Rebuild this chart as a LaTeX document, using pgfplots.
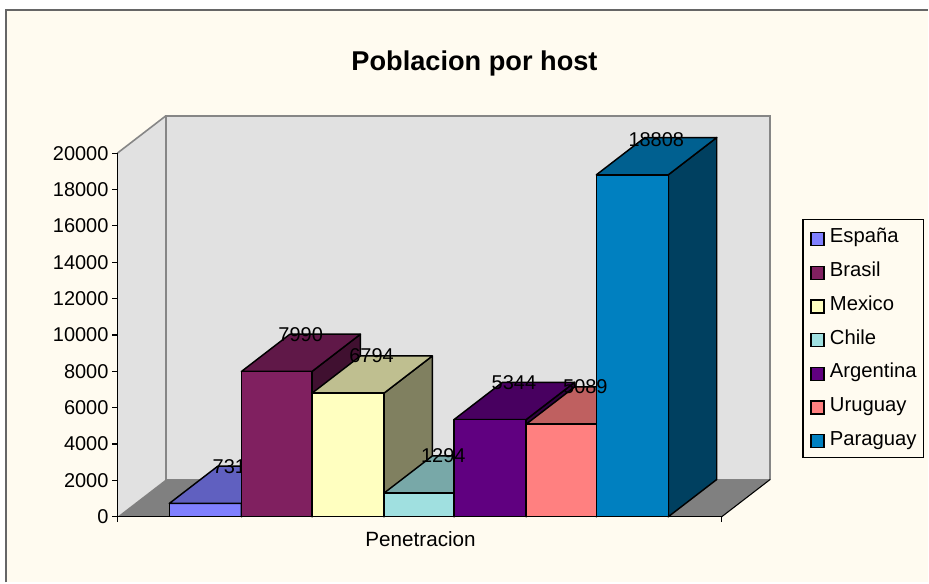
\documentclass[border=0pt]{standalone}
\usepackage{pgfplots}
\usepackage{fontspec}
\setmainfont{Liberation Sans}
\pgfplotsset{compat=1.18}
\definecolor{cream}{HTML}{FFFBF0}
\definecolor{wall}{HTML}{E1E1E1}
\definecolor{edge}{HTML}{868686}
\definecolor{frame}{HTML}{666666}
\definecolor{s1f}{HTML}{8080FF}\definecolor{s1t}{HTML}{6060C0}\definecolor{s1s}{HTML}{404080}
\definecolor{s2f}{HTML}{802060}\definecolor{s2t}{HTML}{601848}\definecolor{s2s}{HTML}{401030}
\definecolor{s3f}{HTML}{FFFFC0}\definecolor{s3t}{HTML}{BFBF90}\definecolor{s3s}{HTML}{808060}
\definecolor{s4f}{HTML}{A0E0E0}\definecolor{s4t}{HTML}{78A8A8}\definecolor{s4s}{HTML}{507070}
\definecolor{s5f}{HTML}{600080}\definecolor{s5t}{HTML}{480060}\definecolor{s5s}{HTML}{300040}
\definecolor{s6f}{HTML}{FF8080}\definecolor{s6t}{HTML}{BF6060}\definecolor{s6s}{HTML}{804040}
\definecolor{s7f}{HTML}{0080C0}\definecolor{s7t}{HTML}{006090}\definecolor{s7s}{HTML}{004060}
\newcommand{\face}[2]{\addplot[fill=#1,draw=black,line width=1.1pt,line join=round,forget plot] coordinates {#2} -- cycle;}
\newcommand{\lab}[3]{\node[font=\fontsize{15}{18}\selectfont,inner sep=0pt,text=black] at (axis cs:#1,#2) {#3};}
\begin{document}
\begin{tikzpicture}
\begin{axis}[
  scale only axis, width=453.75pt, height=273pt,
  xmin=117.5, xmax=722.5, ymin=0, ymax=20000,
  clip=false, axis on top=true,
  axis x line=bottom, axis y line=left,
  axis line style={-,black,line width=1.1pt},
  xtick={117.5,722.5}, xticklabels={,},
  ytick={0,2000,4000,6000,8000,10000,12000,14000,16000,18000,20000},
  scaled y ticks=false,
  tick style={black,line width=0.9pt},
  major tick length=4pt, tick align=outside,
  yticklabel style={/pgf/number format/1000 sep={},/pgf/number format/assume math mode=true,font=\fontsize{15}{18}\selectfont,inner sep=2.5pt},
  title={Poblacion por host},
  title style={at={(axis cs:475,25071)},anchor=center,yshift=-8.25pt,inner sep=0pt,font=\fontsize{20.4}{24}\selectfont\bfseries},
  xlabel={Penetracion},
  xlabel style={at={(axis cs:421,-1192)},anchor=center,yshift=-0.7pt,inner sep=0pt,font=\fontsize{15.5}{18}\selectfont},
  legend style={at={(axis cs:803.3,16373)},anchor=north west,draw=black,line width=0.8pt,fill=cream,
    font=\fontsize{15.2}{18}\selectfont,inner xsep=5.5pt,inner ysep=6.5pt,row sep=11.3pt,
    nodes={inner sep=0pt,text height=11pt,text depth=3pt},
    /tikz/column 2/.style={column sep=0pt},/tikz/column 1/.style={column sep=4pt}},
  legend cell align=left,
  legend image code/.code={\draw[#1,line width=1pt] (0pt,-6pt) rectangle (9.75pt,3.75pt);},
]
% background of the chart area
\addplot[fill=white,draw=none,forget plot] coordinates {(0,28423)(929,28423)(929,-3610)(0,-3610)} -- cycle;
\addplot[fill=cream,draw=none,forget plot] coordinates {(6.5,27873)(929,27873)(929,-3610)(6.5,-3610)} -- cycle;
\addplot[draw=frame,line width=1.5pt,forget plot] coordinates {(6.5,-3610)(6.5,27873)(929,27873)};
% walls and floor
\addplot[fill=wall,draw=none,forget plot] coordinates {(117.5,0)(166,2050)(166,22050)(117.5,20000)} -- cycle;
\addplot[fill=wall,draw=edge,line width=1.3pt,forget plot] coordinates {(166,2050)(166,22050)(771,22050)(771,2050)} -- cycle;
\addplot[draw=edge,line width=1.2pt,forget plot] coordinates {(117.5,20000)(166,22050)};
\addplot[fill=black!50,draw=none,forget plot] coordinates {(117.5,0)(722.5,0)(771,2050)(166,2050)} -- cycle;
\addplot[draw=black,line width=0.8pt,forget plot] coordinates {(722.5,0)(771,2050)};
% Espana 731
\face{s1f}{(169.5,0)(241.7,0)(241.7,731)(169.5,731)}
\face{s1t}{(169.5,731)(241.7,731)(290.2,2781)(218,2781)}
\face{s1s}{(241.7,0)(290.2,2050)(290.2,2781)(241.7,731)}
\lab{229.6}{2781}{731}
% Brasil 7990
\face{s2s}{(312.3,0)(360.8,2050)(360.8,10040)(312.3,7990)}
\face{s2t}{(241.7,7990)(312.3,7990)(360.8,10040)(290.2,10040)}
\face{s2f}{(241.7,0)(312.3,0)(312.3,7990)(241.7,7990)}
% Mexico 6794
\face{s3s}{(384.3,0)(432.8,2050)(432.8,8844)(384.3,6794)}
\face{s3t}{(312.3,6794)(384.3,6794)(432.8,8844)(360.8,8844)}
\face{s3f}{(312.3,0)(384.3,0)(384.3,6794)(312.3,6794)}
% Chile 1294
\face{s4s}{(454.5,0)(503,2050)(503,3344)(454.5,1294)}
\face{s4t}{(384.3,1294)(454.5,1294)(503,3344)(432.8,3344)}
\face{s4f}{(384.3,0)(454.5,0)(454.5,1294)(384.3,1294)}
% Argentina 5344
\face{s5s}{(526.7,0)(575.2,2050)(575.2,7394)(526.7,5344)}
\face{s5t}{(454.5,5344)(526.7,5344)(575.2,7394)(503,7394)}
\face{s5f}{(454.5,0)(526.7,0)(526.7,5344)(454.5,5344)}
% Uruguay 5089
\face{s6s}{(597,0)(645.5,2050)(645.5,7139)(597,5089)}
\face{s6t}{(526.7,5089)(597,5089)(645.5,7139)(575.2,7139)}
\face{s6f}{(526.7,0)(597,0)(597,5089)(526.7,5089)}
% Paraguay 18808
\face{s7s}{(669,0)(717.5,2050)(717.5,20858)(669,18808)}
\face{s7t}{(597,18808)(669,18808)(717.5,20858)(645.5,20858)}
\face{s7f}{(597,0)(669,0)(669,18808)(597,18808)}
% data labels
\lab{301}{10040}{7990}
\lab{372}{8844}{6794}
\lab{443.8}{3344}{1294}
\lab{514.5}{7394}{5344}
\lab{586}{7139}{5089}
\lab{657}{20750}{18808}
% legend
\addlegendimage{fill=s1f,draw=black}\addlegendentry{España}
\addlegendimage{fill=s2f,draw=black}\addlegendentry{Brasil}
\addlegendimage{fill=s3f,draw=black}\addlegendentry{Mexico}
\addlegendimage{fill=s4f,draw=black}\addlegendentry{Chile}
\addlegendimage{fill=s5f,draw=black}\addlegendentry{Argentina}
\addlegendimage{fill=s6f,draw=black}\addlegendentry{Uruguay}
\addlegendimage{fill=s7f,draw=black}\addlegendentry{Paraguay}
\end{axis}
\end{tikzpicture}
\end{document}
